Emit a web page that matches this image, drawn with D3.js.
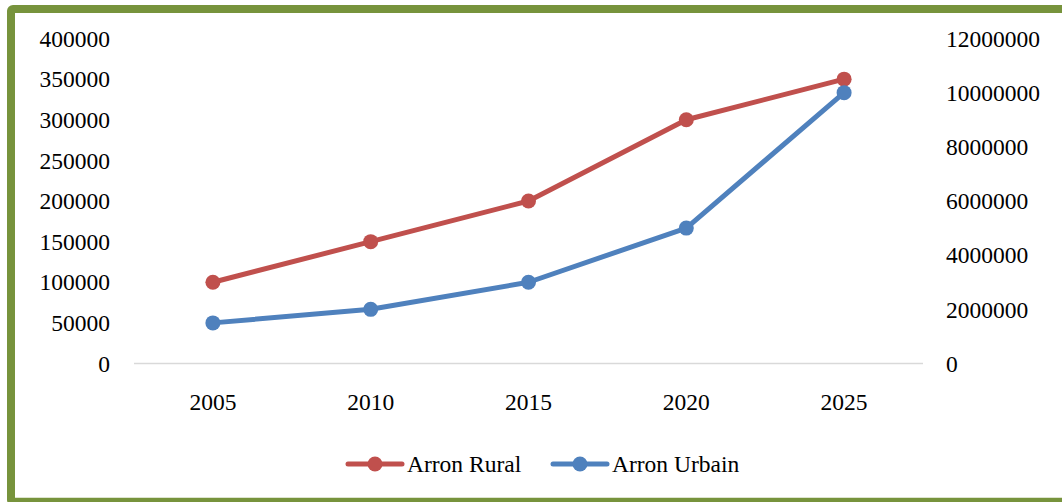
<!DOCTYPE html>
<html><head><meta charset="utf-8">
<script src="https://cdn.jsdelivr.net/npm/d3@7"></script>
<style>html,body{margin:0;padding:0;background:#fff;}svg{display:block;}</style>
</head><body>
<svg id="chart" width="1062" height="502"></svg>
<script>
const categories = ["2005","2010","2015","2020","2025"];
const ruralValues = [100000,150000,200000,300000,350000];
const urbainValues = [1500000,2000000,3000000,5000000,10000000];
const leftTicks = [0,50000,100000,150000,200000,250000,300000,350000,400000];
const rightTicks = [0,2000000,4000000,6000000,8000000,10000000,12000000];
const seriesNames = ["Arron Rural","Arron Urbain"];
const colors = ["#c0504d","#4f81bd"];

const svg = d3.select("#chart");
const font = "'Liberation Serif','Times New Roman',serif";
const fs = "23.5px";

svg.append("rect").attr("x",0).attr("y",0).attr("width",1062).attr("height",502).attr("fill","#fff");
svg.append("rect").attr("x",11).attr("y",9).attr("width",1080).attr("height",492.7)
  .attr("fill","none").attr("stroke","#77933c").attr("stroke-width",8).attr("rx",2);

const x = d3.scaleBand().domain(categories).range([134,923]);
const yL = d3.scaleLinear().domain([0,400000]).range([363.5,38.5]);
const yR = d3.scaleLinear().domain([0,12000000]).range([363.5,38.5]);

// axis line
svg.append("line").attr("x1",134).attr("x2",923).attr("y1",yL(0)).attr("y2",yL(0))
  .attr("stroke","#d9d9d9").attr("stroke-width",1.5);

// left ticks
svg.append("g").selectAll("text").data(leftTicks).join("text")
  .attr("x",110).attr("y",d=>yL(d)).attr("dy","0.35em").attr("text-anchor","end")
  .attr("font-family",font).attr("font-size",fs).attr("fill","#000").text(d=>d);
// right ticks
svg.append("g").selectAll("text").data(rightTicks).join("text")
  .attr("x",946).attr("y",d=>yR(d)).attr("dy","0.35em").attr("text-anchor","start")
  .attr("font-family",font).attr("font-size",fs).attr("fill","#000").text(d=>d);
// x labels
svg.append("g").selectAll("text").data(categories).join("text")
  .attr("x",d=>x(d)+x.bandwidth()/2).attr("y",402).attr("dy","0.35em").attr("text-anchor","middle")
  .attr("font-family",font).attr("font-size",fs).attr("fill","#000").text(d=>d);

function drawSeries(vals, scale, color){
  const pts = vals.map((v,i)=>[x(categories[i])+x.bandwidth()/2, scale(v)]);
  svg.append("path").attr("d",d3.line()(pts)).attr("fill","none")
    .attr("stroke",color).attr("stroke-width",5).attr("stroke-linejoin","round").attr("stroke-linecap","round");
  svg.append("g").selectAll("circle").data(pts).join("circle")
    .attr("cx",d=>d[0]).attr("cy",d=>d[1]).attr("r",7.5).attr("fill",color);
}
drawSeries(ruralValues, yL, colors[0]);
drawSeries(urbainValues, yR, colors[1]);

// legend
const legendItems = [{x:348, name:seriesNames[0], c:colors[0]},{x:553, name:seriesNames[1], c:colors[1]}];
const lg = svg.append("g");
legendItems.forEach(it=>{
  lg.append("line").attr("x1",it.x).attr("x2",it.x+54).attr("y1",464).attr("y2",464)
    .attr("stroke",it.c).attr("stroke-width",5).attr("stroke-linecap","round");
  lg.append("circle").attr("cx",it.x+27).attr("cy",464).attr("r",7.5).attr("fill",it.c);
  lg.append("text").attr("x",it.x+59).attr("y",464).attr("dy","0.35em")
    .attr("font-family",font).attr("font-size",fs).attr("fill","#000").text(it.name);
});
</script>
</body></html>
